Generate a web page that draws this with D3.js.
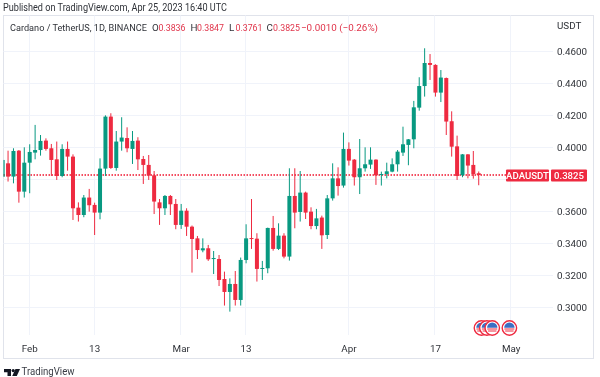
<!DOCTYPE html>
<html><head><meta charset="utf-8">
<script src="https://cdn.jsdelivr.net/npm/d3@7"></script>
<style>
html,body{margin:0;padding:0;background:#fff}
svg{display:block;font-family:Roboto,sans-serif;filter:blur(.3px)}
</style></head><body>
<svg id="c" width="600" height="377"></svg>
<script>
const firstDay = "2023-01-27";
const opens = [.3813,.3898,.3815,.3977,.3721,.3902,.3965,.3981,.4040,.3992,.3923,.3819,.3988,.3940,.3621,.3575,.3684,.3638,.3590,.3865,.4190,.3869,.4034,.4056,.3988,.4040,.3925,.3888,.3823,.3654,.3617,.3694,.3644,.3513,.3602,.3502,.3429,.3354,.3367,.3300,.3300,.3175,.3094,.3144,.3044,.3294,.3431,.3427,.3238,.3242,.3494,.3363,.3446,.3315,.3694,.3594,.3715,.3596,.3506,.3559,.3450,.3679,.3804,.3759,.3988,.3921,.3811,.3867,.3890,.3921,.3825,.3831,.3846,.3892,.3965,.4013,.4048,.4246,.4381,.4525,.4513,.4340,.4431,.4161,.4004,.3823,.3954,.3888,.3836];
const highs = [.3919,.3977,.3992,.3981,.3998,.4017,.4138,.4075,.4054,.4019,.4034,.4017,.4034,.3954,.3654,.3700,.3738,.3652,.3929,.4198,.4211,.4100,.4186,.4123,.4100,.4061,.3944,.3950,.3850,.3675,.3700,.3700,.3675,.3644,.3617,.3509,.3444,.3429,.3388,.3350,.3325,.3221,.3179,.3225,.3309,.3517,.3675,.3461,.3288,.3496,.3569,.3523,.3461,.3867,.3867,.3850,.3721,.3623,.3613,.3571,.3700,.3898,.3873,.4090,.4029,.3925,.4050,.3998,.3998,.3923,.3846,.3902,.3929,.3981,.4127,.4050,.4288,.4436,.4617,.4581,.4517,.4481,.4434,.4223,.4071,.3956,.3956,.3975,.3847];
const lows = [.3813,.3784,.3773,.3652,.3684,.3711,.3923,.3946,.3977,.3819,.3794,.3811,.3852,.3544,.3534,.3561,.3596,.3450,.3548,.3819,.3863,.3852,.3977,.3967,.3894,.3856,.3769,.3794,.3581,.3513,.3575,.3575,.3486,.3488,.3444,.3215,.3300,.3342,.3288,.3206,.3131,.3009,.2971,.3009,.3009,.3273,.3363,.3159,.3169,.3211,.3352,.3356,.3304,.3290,.3492,.3534,.3550,.3486,.3486,.3363,.3425,.3665,.3696,.3746,.3884,.3759,.3706,.3846,.3863,.3763,.3759,.3804,.3842,.3846,.3944,.3886,.3992,.4227,.4315,.4419,.4315,.4281,.4075,.3940,.3794,.3811,.3804,.3802,.3761];
const closes = [.3919,.3815,.3975,.3721,.3902,.3969,.3981,.4038,.3988,.3919,.3819,.3988,.3940,.3617,.3575,.3684,.3636,.3590,.3865,.4190,.3869,.4034,.4059,.3992,.4038,.3923,.3888,.3821,.3659,.3617,.3694,.3642,.3513,.3602,.3502,.3425,.3356,.3367,.3298,.3306,.3169,.3094,.3144,.3044,.3294,.3429,.3425,.3238,.3244,.3494,.3363,.3446,.3315,.3694,.3590,.3715,.3590,.3506,.3554,.3448,.3679,.3804,.3756,.3988,.3915,.3811,.3867,.3892,.3921,.3823,.3831,.3848,.3892,.3971,.4017,.4048,.4248,.4381,.4525,.4513,.4340,.4434,.4159,.4002,.3819,.3954,.3884,.3831,.3825];

const priceTicks = [0.30,0.32,0.34,0.36,0.38,0.40,0.42,0.44,0.46];
const priceLabelTicks = [0.30,0.32,0.34,0.36,0.40,0.42,0.44,0.46];
const timeTicks = ["2023-02-01","2023-02-13","2023-03-01","2023-03-13","2023-04-01","2023-04-17","2023-05-01"];
const timeLabels = ["Feb","13","Mar","13","Apr","17","May"];
const eventDays = ["2023-04-25T12:00Z","2023-04-26T12:00Z","2023-04-27T12:00Z","2023-04-30T16:00Z"];
const lastPrice = 0.3825;

const publishedText = "Published on TradingView.com, Apr 25, 2023 16:40 UTC";
const titleText = "Cardano / TetherUS, 1D, BINANCE";
const ohlcLabels = ["O","H","L","C"];
const ohlcValues = ["0.3836","0.3847","0.3761","0.3825"];
const changeText = "\u22120.0010 (\u22120.26%)";
const symbolText = "ADAUSDT";
const currencyText = "USDT";
const brandText = "TradingView";

const UP = "#089981", DOWN = "#ee2a40", GRID = "#f0f3fa", FRAME = "#e0e3eb", TEXT = "#2f3238";
const frame = {l:3.5, t:15.5, r:593.5, b:358.5};
const plot = {r:553, b:335};

const svg = d3.select("#c");
const y = d3.scaleLinear().domain([0.30,0.46]).range([307,51]);
const x = d3.scaleUtc().domain([new Date("2023-02-01"),new Date("2023-05-01")]).range([29.7,29.7+89*5.41]);
const days = opens.map((_,i)=>d3.utcDay.offset(new Date(firstDay),i));

svg.append("defs").append("clipPath").attr("id","plotclip").append("rect")
  .attr("x",frame.l).attr("y",frame.t).attr("width",plot.r-frame.l).attr("height",plot.b-frame.t);

function label(tx,ty,str,fill,len){
  const t = svg.append("text").attr("x",tx).attr("y",ty).attr("font-size",9.8).attr("fill",fill).text(str);
  if(len) t.attr("textLength",len).attr("lengthAdjust","spacingAndGlyphs");
  return t;
}
label(3,11,publishedText,TEXT,224).attr("font-size",10.2);

// frame
svg.append("rect").attr("x",frame.l).attr("y",frame.t).attr("width",frame.r-frame.l).attr("height",frame.b-frame.t)
  .attr("fill","#fff").attr("stroke",FRAME);

// grid
svg.append("g").selectAll("line").data(priceTicks).join("line")
  .attr("x1",frame.l).attr("x2",plot.r).attr("y1",d=>Math.round(y(d))+.5).attr("y2",d=>Math.round(y(d))+.5)
  .attr("stroke",GRID);
svg.append("g").selectAll("line").data(timeTicks).join("line")
  .attr("y1",frame.t).attr("y2",plot.b).attr("x1",d=>Math.round(x(new Date(d)))-.5).attr("x2",d=>Math.round(x(new Date(d)))-.5)
  .attr("stroke",GRID);

// last price line
svg.append("line").attr("x1",frame.l).attr("x2",506).attr("y1",y(lastPrice)).attr("y2",y(lastPrice))
  .attr("stroke","#f0142f").attr("stroke-dasharray","1.5 1.5").attr("stroke-width",1.3);

// candles
const g = svg.append("g").attr("clip-path","url(#plotclip)");
const idx = d3.range(opens.length);
const col = i => closes[i]>=opens[i] ? UP : DOWN;
g.selectAll("line.w").data(idx).join("line").attr("class","w")
  .attr("x1",i=>x(days[i])).attr("x2",i=>x(days[i])).attr("y1",i=>y(highs[i])).attr("y2",i=>y(lows[i]))
  .attr("stroke",col).attr("stroke-width",1);
g.selectAll("rect.b").data(idx).join("rect").attr("class","b")
  .attr("x",i=>x(days[i])-2).attr("width",4)
  .attr("y",i=>y(Math.max(opens[i],closes[i])))
  .attr("height",i=>Math.max(1,Math.abs(y(opens[i])-y(closes[i]))))
  .attr("fill",col);

// price axis
const axisY = d3.axisRight(y).tickValues(priceLabelTicks).tickSize(0).tickPadding(0).tickFormat(d3.format(".4f"));
const gy = svg.append("g").attr("transform","translate(557,0)").call(axisY);
gy.select(".domain").remove();
gy.selectAll("text").attr("font-size",9.8).attr("fill",TEXT).attr("font-family","Roboto,sans-serif");
label(557,29,currencyText,TEXT);

// time axis
const axisX = d3.axisBottom(x).tickValues(timeTicks.map(d=>new Date(d))).tickSize(0).tickPadding(0)
  .tickFormat((d,i)=>timeLabels[i]);
const gx = svg.append("g").attr("transform","translate(-0.5,345)").call(axisX);
gx.select(".domain").remove();
gx.selectAll("text").attr("font-size",9.8).attr("fill",TEXT).attr("font-family","Roboto,sans-serif");

// legend
label(10,30.5,titleText,TEXT,137).attr("font-size",9.2);
const ohlcX = [152,190.5,229,266.5];
ohlcLabels.forEach((l,i)=>{
  label(ohlcX[i],30.5,l,TEXT);
  label(ohlcX[i]+6.5,30.5,ohlcValues[i],"#e0344a",27);
});
label(301,30.5,changeText,"#e0344a",77);

// price tags
const tagY = Math.round(y(lastPrice));
svg.append("rect").attr("x",506).attr("y",tagY-5.5).attr("width",43).attr("height",12).attr("rx",1).attr("fill",DOWN);
svg.append("rect").attr("x",551).attr("y",tagY-5.5).attr("width",36).attr("height",12).attr("rx",1).attr("fill",DOWN);
svg.append("text").attr("x",527.5).attr("y",tagY+4).attr("text-anchor","middle").attr("font-size",9.6).attr("font-weight",500).attr("fill","#fff").text(symbolText);
svg.append("text").attr("x",569).attr("y",tagY+4).attr("text-anchor","middle").attr("font-size",9.6).attr("font-weight",500).attr("fill","#fff").text(d3.format(".4f")(lastPrice));

// event flags
const flagY = 328, R = 7.2;
const fg = svg.append("g").selectAll("g").data(eventDays).join("g")
  .attr("transform",d=>`translate(${x(new Date(d))},${flagY})`);
fg.append("circle").attr("r",R).attr("fill","#fff").attr("stroke",DOWN).attr("stroke-width",1.4);
fg.append("path").attr("d","M-5.2,-.3A5.2,5.2 0 0 1 5.2,-.3Z").attr("fill","#3b6fc4");
fg.append("path").attr("d","M-5,1H5M-4.2,3H4.2").attr("stroke",DOWN).attr("stroke-width",1).attr("fill","none");

// brand
const logo = svg.append("g").attr("transform","translate(4,369)").attr("fill","#131722");
logo.append("path").attr("d","M0,0H7V7H3.5V3.2H0Z");
logo.append("circle").attr("cx",9.2).attr("cy",1.6).attr("r",1.6);
logo.append("path").attr("d","M11.5,0H16L12.8,7H8.2Z");
svg.append("text").attr("x",21.5).attr("y",375).attr("font-size",10.4).attr("fill","#3a3d45").attr("textLength",53).attr("lengthAdjust","spacingAndGlyphs").text(brandText);
</script>
</body></html>
